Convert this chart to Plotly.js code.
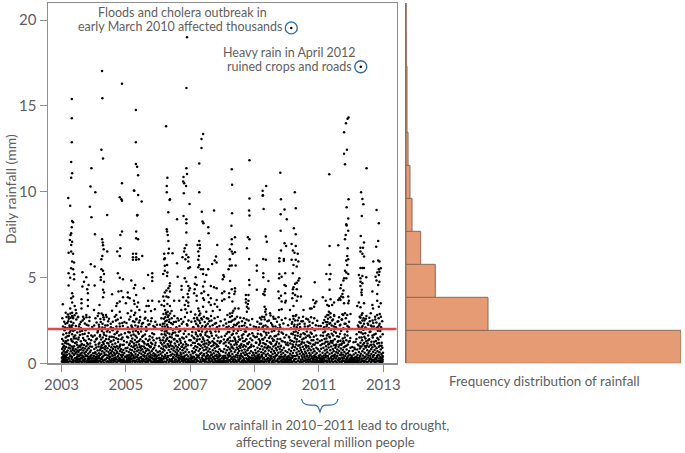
<!DOCTYPE html>
<html><head><meta charset="utf-8">
<script src="https://cdn.plot.ly/plotly-3.0.1.min.js"></script>
<style>html,body{margin:0;padding:0;background:#fff}#c{width:685px;height:453px}</style></head>
<body><div id="c"></div>
<script>
// Rainfall readings above about 2.7 mm: decimal year, mm
const high2003to2005 = [2004.26,17.03,2004.27,15.45,2003.32,15.4,2003.32,14.28,2003.32,12.88,2003.3,11.74,2003.33,11.08,2003.3,10.82,2003.21,9.64,2004.24,12.45,2004.29,11.93,2003.93,11.37,2003.9,10.3,2004.05,9.97,2004.88,16.3,2004.88,10.5,2004.81,9.68,2004.86,9.56,2005.25,10.07,2003.27,9.19,2003.88,9.13,2004.88,9.48,2003.33,8.3,2003.36,8.22,2003.32,7.93,2004.42,8.65,2003.93,8.51,2005.35,8.61,2003.3,7.58,2003.28,7.48,2004.04,7.52,2005.32,7.68,2004.88,7.68,2004.83,7.48,2005.32,7.29,2003.26,7.19,2003.33,7.09,2003.3,6.9,2004.26,7.23,2004.28,7.04,2004.29,6.88,2004.31,6.65,2004.42,6.51,2003.3,6.51,2003.22,6.45,2003.36,6.38,2004.83,6.71,2004.73,6.51,2004.81,6.26,2005.22,6.38,2005.32,6.38,2005.22,6.18,2005.32,6.18,2005.22,6.03,2005.32,6.03,2004.27,6.26,2004.24,6.06,2003.33,5.93,2003.39,5.87,2003.91,5.77,2004.03,5.64,2003.3,5.54,2003.36,5.48,2004.24,5.48,2004.29,5.4,2003.65,5.31,2003.22,5.25,2003.39,5.19,2004.32,5.21,2003.27,4.99,2003.39,4.9,2003.77,5.01,2004.22,5.01,2004.75,5.25,2004.81,4.99,2004.91,4.9,2003.7,4.76,2004.22,4.86,2004.32,4.76,2005.17,4.82,2003.22,4.53,2003.65,4.47,2003.84,4.57,2004.03,4.53,2003.8,4.31,2004.29,4.28,2004.32,4.12,2004.86,4.22,2004.77,4.18,2005.06,4.12,2005.29,4.57,2005.25,4.37,2003.33,4.08,2003.36,3.89,2003.3,3.79,2003.82,4.08,2004.57,4.02,2004.91,3.85,2003.62,3.73,2003.82,3.69,2004.29,3.85,2004.81,3.6,2004.73,3.5,2004.7,3.34,2005.12,3.79,2005.06,3.85,2005.25,3.65,2005.32,3.98,2003.04,3.44,2003.33,3.54,2003.62,3.5,2003.41,3.34,2003.82,3.34,2005.0,3.5,2005.27,3.46,2005.35,3.3,2003.27,3.2,2003.44,3.1,2003.62,3.2,2004.01,3.1,2004.18,3.4,2004.57,3.07,2004.81,3.01,2005.17,3.07,2003.13,2.95,2003.33,2.95,2003.46,2.92,2003.77,2.82,2003.87,2.68,2004.15,2.92,2004.29,2.82,2004.7,2.82,2005.06,2.92,2005.29,2.95,2003.22,2.72,2003.36,2.62,2003.51,2.68,2003.67,2.72];
const high2005to2007 = [2005.31,14.77,2005.31,12.88,2005.31,11.62,2005.35,11.46,2005.38,10.96,2005.26,10.06,2005.38,9.81,2006.9,19.0,2006.88,16.05,2006.25,13.82,2007.4,13.37,2007.35,13.08,2007.35,12.55,2007.28,11.64,2006.88,11.37,2006.9,11.04,2006.79,10.86,2006.78,10.59,2006.81,10.5,2006.87,10.34,2006.8,9.91,2007.28,9.97,2006.29,10.82,2006.27,10.34,2006.27,9.97,2006.37,9.56,2005.49,9.43,2006.36,9.52,2006.98,9.29,2006.32,8.8,2007.36,8.84,2007.74,8.9,2005.36,8.65,2006.59,8.4,2006.79,8.59,2006.88,8.4,2006.88,8.16,2007.38,8.26,2007.41,8.16,2007.56,7.93,2006.27,7.81,2006.28,7.68,2006.3,7.48,2006.88,7.62,2007.57,7.58,2005.38,7.23,2006.32,7.13,2006.88,6.9,2007.28,7.13,2007.23,6.9,2007.3,6.9,2007.84,6.9,2007.3,6.71,2006.34,6.67,2006.83,6.71,2006.81,6.51,2006.19,6.38,2006.32,6.41,2006.45,6.41,2006.88,6.32,2005.51,6.26,2005.4,6.06,2006.19,6.06,2006.21,6.12,2006.76,6.18,2006.85,6.06,2006.94,6.18,2006.94,5.93,2007.25,6.51,2007.27,6.26,2007.25,6.03,2007.8,6.22,2007.76,5.99,2006.59,5.83,2007.68,5.79,2007.82,5.87,2006.28,5.73,2006.21,5.68,2006.94,5.54,2006.99,5.6,2007.28,5.73,2007.25,5.6,2007.33,5.48,2007.4,5.48,2007.56,5.48,2005.82,5.25,2005.69,5.15,2005.82,5.01,2005.82,4.8,2006.21,5.4,2006.29,5.29,2006.16,5.21,2006.28,5.09,2006.61,5.05,2007.17,5.01,2007.4,5.21,2007.5,5.15,2008.05,5.05,2006.83,4.96,2006.88,4.76,2007.45,4.76,2006.37,4.66,2006.36,4.51,2006.32,4.37,2006.73,4.51,2006.94,4.51,2006.99,4.37,2007.14,4.63,2007.2,4.57,2007.4,4.47,2007.64,4.51,2007.74,4.43,2005.56,4.37,2006.73,4.28,2006.26,4.24,2006.21,4.12,2006.37,4.18,2006.96,4.24,2006.92,4.04,2007.14,4.31,2007.12,4.08,2007.43,4.18,2007.35,4.08,2007.56,3.98,2007.82,4.37,2007.99,4.08,2006.16,3.89,2006.26,3.89,2006.32,3.85,2006.19,3.65,2006.78,3.85,2006.94,3.85,2007.2,3.93,2007.4,3.79,2007.64,3.79,2007.82,3.69,2005.69,3.65,2005.82,3.65,2006.03,3.6,2006.5,3.65,2006.66,3.65,2006.88,3.65,2006.94,3.54,2007.43,3.69,2007.58,3.56,2007.99,3.65,2007.2,3.65,2005.38,3.54,2005.64,3.34,2005.71,3.34,2006.11,3.4,2006.19,3.34,2006.29,3.46,2006.37,3.34,2006.83,3.4,2006.94,3.34,2007.25,3.2,2007.4,3.3,2007.64,3.4,2007.76,3.46,2007.84,3.3,2005.42,3.1,2005.6,3.0,2005.78,3.05,2005.9,3.15,2006.22,3.1,2006.3,3.0,2006.42,3.05,2006.72,3.1,2006.85,3.15,2006.9,2.95,2007.02,3.0,2007.28,3.05,2007.5,3.0,2007.7,3.05,2007.92,3.1];
const high2008to2010 = [2008.29,11.31,2008.84,11.84,2008.3,10.4,2008.84,9.6,2009.8,11.11,2009.36,10.34,2009.25,10.06,2009.25,9.77,2009.82,9.56,2010.25,9.97,2010.14,19.55,2009.26,9.8,2008.83,8.9,2009.28,9.0,2009.81,8.69,2009.93,8.96,2010.28,9.04,2008.84,8.61,2008.3,8.75,2010.0,8.4,2008.28,8.01,2009.81,7.72,2010.22,7.87,2010.28,7.52,2008.79,7.35,2008.84,7.23,2009.35,7.39,2009.38,7.09,2008.39,7.35,2008.29,7.23,2008.29,6.94,2009.93,7.0,2010.15,6.96,2009.98,6.84,2010.28,6.84,2008.76,6.71,2008.23,6.65,2008.29,6.51,2008.39,6.47,2008.32,6.38,2009.82,6.57,2010.19,6.57,2010.34,6.38,2010.24,6.45,2008.23,6.06,2008.83,6.08,2009.27,6.08,2009.35,6.03,2009.77,6.12,2009.91,6.08,2009.77,5.93,2009.91,5.97,2010.15,6.03,2010.28,6.03,2010.36,5.93,2008.23,5.68,2008.29,5.7,2008.41,5.7,2009.07,5.7,2010.21,5.73,2010.31,5.64,2008.19,5.48,2009.07,5.4,2009.77,5.21,2009.95,5.25,2009.27,5.25,2010.19,5.25,2008.03,5.15,2008.01,4.9,2008.24,4.8,2008.83,4.86,2009.27,5.01,2009.43,4.8,2009.76,4.96,2009.84,5.05,2010.39,4.96,2010.36,4.82,2010.31,4.7,2008.84,4.57,2009.93,4.57,2009.97,4.51,2010.26,4.63,2010.21,4.43,2010.31,4.31,2008.39,4.37,2008.29,4.31,2009.07,4.28,2009.33,4.31,2009.31,4.18,2009.27,4.04,2009.31,3.98,2009.74,4.18,2009.95,4.08,2010.19,4.31,2010.19,4.08,2010.26,3.98,2008.06,4.18,2008.21,4.08,2008.39,4.18,2008.37,4.04,2008.81,3.98,2008.73,3.98,2009.82,3.93,2010.34,3.89,2008.21,3.85,2008.06,3.73,2008.73,3.73,2008.81,3.65,2009.76,3.79,2009.97,3.65,2010.17,3.79,2010.44,3.89,2010.31,3.65,2008.31,3.6,2008.73,3.54,2008.79,3.46,2009.84,3.6,2009.95,3.54,2008.39,3.2,2008.5,3.2,2008.76,3.3,2008.81,3.2,2009.31,3.3,2009.35,3.15,2009.76,3.1,2009.84,3.15,2010.21,3.34,2010.1,3.1,2010.52,3.1,2010.72,3.2,2008.34,3.07,2008.31,2.95,2008.76,3.01,2009.33,3.01,2009.48,2.92,2009.58,2.72];
const high2011to2012 = [2011.32,11.02,2011.92,14.32,2011.89,14.26,2011.84,13.99,2011.78,13.47,2011.87,12.45,2011.78,12.22,2011.81,11.6,2012.48,11.37,2012.31,9.97,2012.35,9.58,2011.92,9.56,2012.3,17.28,2012.38,9.27,2011.86,9.1,2011.91,8.44,2012.33,8.59,2012.79,8.94,2012.86,8.16,2011.85,8.1,2011.86,8.03,2011.91,7.72,2011.83,7.48,2011.81,7.23,2012.3,7.42,2012.4,7.04,2011.33,6.84,2011.6,6.88,2012.84,7.13,2012.78,6.8,2011.89,6.71,2012.29,6.74,2012.37,6.74,2012.29,6.51,2012.35,6.38,2012.4,6.22,2011.88,6.26,2011.85,5.99,2011.91,6.06,2012.69,5.93,2012.84,5.99,2012.88,5.93,2011.33,5.73,2011.88,5.73,2012.29,5.56,2012.35,5.56,2012.4,5.56,2012.86,5.48,2012.92,5.54,2011.23,5.21,2011.36,5.21,2011.81,5.4,2011.85,5.29,2011.91,5.21,2012.81,5.29,2012.88,5.34,2012.24,5.15,2012.35,5.09,2012.47,5.01,2012.29,4.96,2011.33,4.9,2011.78,4.96,2011.85,4.96,2011.76,4.82,2012.76,5.05,2012.86,5.15,2012.79,4.82,2012.88,4.76,2010.87,4.72,2012.29,4.76,2012.35,4.66,2011.69,4.57,2012.84,4.57,2012.29,4.51,2011.33,4.28,2011.67,4.37,2011.76,4.24,2012.66,4.18,2012.33,4.28,2012.32,4.12,2012.33,3.98,2012.81,4.04,2011.73,4.04,2011.69,3.89,2011.64,3.79,2011.75,3.85,2011.91,3.89,2011.6,3.69,2011.67,3.69,2011.93,3.65,2011.12,3.85,2011.36,3.73,2011.21,3.65,2010.82,3.69,2010.88,3.5,2010.92,3.6,2011.47,3.54,2011.41,3.4,2011.26,3.4,2011.31,3.34,2011.78,3.5,2011.91,3.5,2012.24,3.54,2012.4,3.5,2012.92,3.5,2012.81,3.65,2010.85,3.3,2010.77,3.2,2012.19,3.34,2012.29,3.27,2012.86,3.3,2012.66,3.4,2012.68,3.2,2011.31,3.01,2011.36,2.92,2011.26,2.82,2011.47,2.82,2011.73,2.86,2011.81,2.92,2011.88,2.82,2011.98,2.88,2012.35,2.92,2012.61,2.92,2012.81,2.82,2012.89,2.88];

// Rainfall readings below about 3 mm: fraction of the year, mm
const low2003 = [.01,.1,.01,.32,.02,.55,.02,.83,.03,.14,.03,.62,.03,1.12,.04,.06,.04,.37,.05,.21,.05,.94,.06,.44,.06,1.31,.07,.09,.07,.71,.08,.26,.08,1.02,.09,.05,.09,.52,.1,.16,.1,.85,.11,.31,.11,1.2,.12,.63,.12,2.3,.13,.11,.13,1.5,.14,.42,.14,.95,.15,.2,.15,1.75,.16,.07,.16,1.15,.17,.5,.18,.12,.18,2.05,.19,.75,.2,1.35,.21,.33,.21,2.45,.22,.9,.23,1.6,.24,.55,.25,2.2,.26,1.05,.27,.4,.27,1.85,.28,2.65,.29,.7,.3,1.4,.31,2.1,.31,.25,.32,.98,.33,2.75,.33,1.7,.34,.6,.35,1.25,.36,.15,.36,.88,.37,2.35,.38,1.55,.38,.48,.39,1.0,.4,.72,.41,1.95,.42,.3,.42,1.18,.43,.58,.44,.82,.45,1.45,.45,.1,.46,2.55,.47,.66,.48,.38,.48,1.08,.49,1.8,.5,.52,.51,.92,.52,.24,.52,1.38,.53,.68,.54,2.15,.55,.44,.55,1.02,.56,.78,.57,1.65,.58,.28,.58,.96,.59,.56,.6,1.28,.6,2.4,.61,.8,.62,.34,.63,1.12,.63,.62,.64,1.9,.65,.46,.66,.9,.67,.18,.67,1.48,.68,.74,.69,.36,.7,1.06,.7,2.6,.71,.6,.72,1.72,.73,.22,.73,.86,.74,.5,.75,1.32,.76,.68,.77,.12,.77,1.0,.78,2.25,.79,.42,.8,.78,.81,1.58,.82,.26,.82,1.1,.83,.56,.84,.08,.84,.88,.85,1.42,.86,.35,.87,.14,.87,2.0,.88,.64,.89,.06,.89,1.16,.9,.29,.91,.1,.91,.74,.92,1.35,.93,.05,.93,.47,.94,.18,.95,.08,.95,.96,.96,.33,.97,.06,.97,1.55,.98,.15,.98,.58,.99,.09,.99,.28];
const low2004 = [.01,.06,.01,.42,.02,.16,.02,.83,.03,.08,.03,1.25,.04,.28,.05,.05,.05,.64,.06,.18,.06,1.08,.07,.36,.08,.11,.08,.92,.09,.52,.1,.07,.1,1.45,.11,.22,.12,.74,.13,.4,.13,1.9,.14,.13,.15,.98,.16,.58,.16,2.25,.17,.3,.18,1.2,.19,.76,.2,.48,.2,1.65,.21,.1,.22,2.4,.22,.86,.23,1.38,.24,.56,.25,1.05,.26,.24,.27,2.08,.27,.7,.28,1.5,.29,.9,.3,.42,.31,1.78,.31,1.12,.32,2.55,.33,.62,.34,.2,.34,1.3,.35,.82,.36,2.2,.37,1.0,.38,.5,.39,1.6,.4,.72,.4,2.7,.41,.32,.42,1.18,.43,.88,.44,1.95,.45,.46,.45,2.45,.46,.66,.47,1.4,.48,.26,.48,1.02,.49,.54,.5,1.82,.51,.78,.52,.38,.52,1.26,.53,2.3,.54,.6,.55,.94,.56,.16,.56,1.55,.57,.7,.58,1.1,.59,.44,.6,.84,.6,2.05,.61,.28,.62,1.34,.63,.62,.64,.96,.65,1.7,.65,.12,.66,.5,.67,1.15,.68,.34,.68,.76,.69,2.5,.7,1.46,.71,.58,.72,.22,.72,1.0,.73,.68,.74,1.85,.75,.4,.76,.86,.76,1.24,.77,.14,.78,.56,.79,1.62,.8,.3,.8,.95,.81,2.15,.82,.72,.83,.18,.83,1.1,.84,.48,.85,.82,.86,.1,.86,1.4,.87,.36,.88,.64,.88,.07,.89,2.35,.9,.2,.9,1.06,.91,.5,.92,.09,.92,.78,.93,.27,.94,.05,.94,1.3,.95,.16,.95,.6,.96,.08,.97,.38,.97,1.75,.98,.12,.99,.05,.99,.88];
const low2005 = [.01,.07,.01,.35,.02,.18,.02,.72,.03,.05,.03,1.22,.04,.26,.05,.1,.05,.9,.06,.44,.07,.06,.07,1.5,.08,.3,.09,.14,.09,.66,.1,.08,.1,1.06,.11,.5,.12,.2,.12,1.8,.13,.8,.14,.38,.15,1.3,.15,.1,.16,.6,.17,2.2,.17,1.0,.18,.28,.19,.76,.2,1.45,.2,.52,.21,2.05,.22,.16,.23,.94,.24,1.68,.24,.42,.25,1.15,.26,.68,.27,2.4,.27,.3,.28,1.36,.29,.84,.3,.54,.31,1.9,.31,.12,.32,1.05,.33,2.6,.34,.7,.34,1.5,.35,.36,.36,.92,.37,1.25,.38,2.15,.38,.48,.39,.78,.4,1.72,.41,.2,.41,1.1,.42,.62,.43,2.5,.44,.96,.44,.32,.45,1.4,.46,.74,.47,.1,.47,1.85,.48,.56,.49,1.0,.5,.26,.5,2.3,.51,.82,.52,1.28,.53,.46,.54,.68,.54,1.6,.55,.14,.56,.98,.57,2.0,.58,.38,.58,1.16,.59,.6,.6,.88,.61,.22,.61,2.65,.62,1.42,.63,.72,.64,.44,.65,1.08,.65,1.95,.66,.1,.67,.84,.68,.54,.69,1.32,.69,.28,.7,2.25,.71,.76,.72,1.02,.73,.18,.74,.62,.74,1.58,.75,.36,.76,.94,.77,.5,.78,1.2,.78,2.45,.79,.08,.8,.7,.81,.3,.82,1.12,.82,1.75,.83,.46,.84,.82,.85,.12,.86,.58,.86,1.35,.87,.24,.88,.9,.89,.06,.89,.4,.9,2.1,.9,.16,.91,1.05,.92,.08,.92,.52,.93,.2,.94,.05,.94,.74,.95,.3,.96,.1,.96,1.45,.97,.05,.97,.42,.98,.14,.99,.06,.99,.64];
const low2006 = [.0,.05,.01,.1,.01,.28,.02,.06,.02,.48,.03,.14,.03,1.0,.04,.05,.04,.32,.05,.09,.05,.7,.06,.2,.07,.06,.07,1.35,.08,.12,.08,.55,.09,.3,.1,.08,.1,.88,.11,1.7,.12,.18,.12,.44,.13,1.1,.14,.64,.15,2.3,.15,.26,.16,.82,.17,1.5,.18,2.6,.18,.38,.19,1.2,.2,.74,.21,2.15,.21,1.85,.22,.5,.23,2.45,.23,1.02,.24,1.62,.25,.3,.26,2.85,.26,.92,.27,1.4,.28,2.25,.28,.6,.29,1.78,.3,1.12,.31,2.7,.31,.42,.32,2.05,.33,.78,.34,1.3,.35,2.55,.35,.96,.36,.24,.37,1.55,.38,.66,.39,1.05,.4,2.35,.41,.48,.41,1.25,.42,.84,.43,1.68,.44,.14,.45,1.0,.45,.56,.46,1.95,.47,.36,.48,.74,.49,1.38,.49,2.4,.5,.9,.51,.5,.52,1.15,.53,.22,.53,1.8,.54,.68,.55,1.02,.56,.4,.57,2.1,.58,.8,.58,1.3,.59,.58,.6,.12,.61,.94,.62,1.6,.62,.34,.63,.72,.64,2.5,.65,1.08,.65,.46,.66,.2,.67,1.42,.68,.84,.69,1.9,.7,.62,.7,.28,.71,1.18,.72,.52,.73,.96,.74,2.3,.75,.38,.75,1.5,.76,.76,.77,.16,.78,1.1,.79,.6,.8,1.72,.8,.3,.81,.88,.82,2.0,.83,.44,.84,1.25,.85,.1,.85,.68,.86,.98,.87,.26,.88,1.55,.89,.5,.9,.08,.9,.8,.91,2.2,.92,.2,.93,1.05,.93,.05,.94,.4,.95,.14,.96,.64,.97,.07,.97,1.35,.98,.28,.99,.11];
const low2007 = [.01,.06,.01,.5,.02,.22,.03,.09,.03,1.05,.04,.4,.05,.14,.05,1.6,.06,.7,.07,.05,.07,.3,.08,1.2,.09,.58,.1,.16,.1,2.1,.11,.88,.12,.36,.13,1.45,.13,.08,.14,.66,.15,2.45,.16,1.0,.17,.26,.17,1.8,.18,.78,.19,.5,.2,1.3,.21,2.65,.21,.18,.22,.94,.23,1.58,.24,.42,.24,2.2,.25,1.12,.26,.72,.27,1.9,.28,.32,.28,2.8,.29,1.4,.3,.84,.31,.56,.31,2.35,.32,1.7,.33,.1,.33,1.02,.34,2.05,.35,.62,.36,1.25,.37,2.55,.38,.9,.38,.44,.39,1.5,.4,.24,.41,1.1,.41,2.0,.42,.76,.43,.54,.44,1.32,.45,2.4,.45,.14,.46,.98,.47,1.65,.48,.38,.49,.8,.49,2.2,.5,1.15,.51,.6,.52,.28,.52,1.85,.53,.92,.54,1.35,.55,.48,.56,2.6,.56,.7,.57,1.08,.58,.18,.59,1.52,.6,.84,.6,.4,.61,2.15,.62,1.2,.63,.64,.64,.3,.65,1.75,.66,1.0,.66,2.5,.67,.52,.68,.12,.69,1.28,.7,.76,.71,.36,.71,2.0,.72,1.05,.73,.58,.74,1.45,.75,.2,.76,.88,.76,2.3,.77,.44,.78,1.15,.79,.7,.8,.1,.81,1.62,.82,.5,.82,.96,.83,2.1,.84,.28,.85,1.3,.86,.66,.87,.08,.87,1.0,.88,.34,.89,1.85,.9,.14,.9,.56,.91,.82,.92,.06,.93,1.25,.93,.24,.94,.46,.95,.1,.96,.72,.96,.05,.97,1.55,.98,.3,.98,.12,.99,.05];
const low2008 = [.01,.08,.01,.36,.02,.05,.02,.68,.03,.18,.04,.07,.04,1.15,.05,.28,.06,.1,.06,.84,.07,.05,.08,.44,.08,1.6,.09,.14,.1,.62,.11,.06,.11,1.02,.12,.32,.13,2.1,.13,.12,.14,.76,.15,1.35,.16,.5,.16,.2,.17,1.82,.18,.94,.19,.38,.2,2.4,.2,1.2,.21,.6,.22,.16,.23,1.5,.23,.82,.24,2.7,.25,.42,.26,1.1,.27,2.05,.27,.7,.28,.26,.29,1.65,.3,.98,.31,2.5,.31,.54,.32,1.3,.33,.14,.34,.86,.35,1.9,.35,.4,.36,2.25,.37,1.08,.38,.66,.39,1.42,.39,.22,.4,2.6,.41,.78,.42,1.18,.43,.48,.44,1.75,.44,.1,.45,.92,.46,2.3,.47,.34,.48,1.25,.48,.6,.49,.84,.5,1.55,.51,.18,.52,.72,.52,2.15,.53,1.0,.54,.44,.55,1.38,.56,.28,.56,.9,.57,1.95,.58,.56,.59,1.12,.6,.12,.6,.74,.61,2.45,.62,1.48,.63,.36,.64,.96,.65,.62,.65,1.7,.66,.2,.67,1.05,.68,2.2,.69,.5,.69,.8,.7,1.3,.71,.08,.72,.66,.73,1.85,.73,.98,.74,.3,.75,2.55,.76,.54,.77,1.15,.78,.76,.78,.14,.79,1.6,.8,.42,.81,.88,.82,2.0,.82,.24,.83,1.22,.84,.58,.85,.06,.86,.94,.86,.34,.87,1.45,.88,.12,.89,.7,.9,.05,.9,1.08,.91,.26,.92,.46,.93,.08,.93,1.75,.94,.18,.95,.05,.95,.62,.96,.32,.97,.1,.97,1.0,.98,.05,.99,.22,.99,.48];
const low2009 = [.0,.06,.01,.16,.01,.4,.02,.07,.02,.78,.03,.24,.04,.05,.04,1.2,.05,.34,.05,.1,.06,.6,.07,.18,.07,1.55,.08,.06,.09,.46,.09,.9,.1,.12,.11,.3,.11,1.95,.12,.7,.13,.08,.14,1.08,.14,.52,.15,.2,.16,2.3,.17,1.3,.17,.84,.18,.38,.19,1.7,.2,.14,.21,.64,.21,2.55,.22,1.0,.23,.48,.24,1.4,.25,.26,.25,2.1,.26,.8,.27,1.18,.28,.58,.29,1.85,.29,.32,.3,2.7,.31,.94,.32,1.5,.33,.12,.33,.7,.34,2.2,.35,1.1,.36,.42,.37,1.65,.38,.86,.38,.22,.39,1.3,.4,2.45,.41,.56,.42,1.0,.43,.3,.43,1.78,.44,.74,.45,2.0,.46,.46,.47,1.22,.47,.16,.48,.92,.49,1.58,.5,.38,.51,.66,.51,2.35,.52,1.12,.53,.28,.54,.82,.55,1.45,.55,.1,.56,.54,.57,2.15,.58,.98,.59,.36,.6,1.35,.6,.72,.61,1.9,.62,.2,.63,.6,.64,1.05,.65,2.6,.65,.44,.66,.88,.67,1.6,.68,.14,.69,.76,.69,1.25,.7,.5,.71,2.05,.72,.26,.73,.96,.74,1.7,.74,.62,.75,.08,.76,1.15,.77,.4,.78,.84,.78,2.25,.79,.3,.8,1.42,.81,.68,.82,.12,.82,1.02,.83,.52,.84,1.8,.85,.22,.86,.78,.86,.06,.87,1.28,.88,.36,.89,.6,.9,.1,.9,2.0,.91,.9,.92,.05,.92,.28,.93,1.5,.94,.16,.95,.48,.95,.06,.96,.72,.97,.2,.98,.05,.98,1.1,.99,.34];
const low2010 = [.01,.07,.01,.3,.02,.12,.02,.64,.03,.05,.04,.22,.04,1.05,.05,.09,.06,.42,.06,.05,.07,.8,.08,.16,.08,1.5,.09,.34,.1,.07,.1,.56,.11,1.15,.12,.24,.13,.72,.13,2.05,.14,.12,.15,.46,.16,1.3,.16,.9,.17,2.4,.18,.32,.19,1.7,.19,.6,.2,1.0,.21,2.6,.22,.18,.22,1.25,.23,.76,.24,2.25,.25,1.48,.25,.42,.26,.94,.27,2.75,.28,1.85,.28,.26,.29,1.1,.3,.62,.31,2.1,.31,1.4,.32,.84,.33,.5,.34,2.5,.34,1.6,.35,.16,.36,1.02,.37,.7,.38,1.95,.38,.36,.39,1.28,.4,2.3,.41,.56,.42,.9,.42,1.55,.43,.1,.44,.78,.45,1.12,.46,2.0,.46,.44,.47,.66,.48,1.38,.49,.24,.5,2.45,.5,.96,.51,.54,.52,1.75,.53,.14,.54,.82,.54,1.2,.55,.38,.56,2.15,.57,.68,.58,1.05,.58,.28,.59,1.5,.6,.58,.61,.92,.62,.18,.62,1.85,.63,.46,.64,1.25,.65,.74,.66,2.55,.66,.1,.67,1.0,.68,.32,.69,1.62,.7,.6,.7,.86,.71,2.2,.72,.2,.73,1.15,.74,.5,.74,1.8,.75,.76,.76,.08,.77,1.35,.78,.4,.78,.98,.79,2.05,.8,.62,.81,.14,.82,1.1,.82,.3,.83,.84,.84,1.55,.85,.44,.86,.06,.86,.7,.87,1.92,.88,.22,.89,.52,.9,1.2,.9,.1,.91,.36,.92,.9,.93,.05,.93,.6,.94,.16,.95,1.4,.95,.07,.96,.3,.97,.05,.97,.82,.98,.12,.99,.44];
const low2011 = [.0,.06,.01,.14,.01,.36,.02,.05,.02,.7,.03,.2,.04,.08,.04,.5,.05,1.05,.05,.05,.06,.28,.07,.12,.07,.85,.08,.05,.09,.4,.09,1.35,.1,.18,.11,.06,.11,.62,.12,.3,.13,1.6,.13,.1,.14,.9,.15,.46,.16,2.1,.16,.22,.17,1.15,.18,.74,.19,1.85,.19,.14,.2,.56,.21,2.4,.22,1.0,.22,.34,.23,1.45,.24,.8,.25,2.25,.25,.08,.26,.64,.27,1.25,.28,2.6,.28,.42,.29,1.7,.3,.92,.31,.24,.31,2.05,.32,1.12,.33,.54,.34,1.5,.35,2.35,.35,.76,.36,.3,.37,1.3,.38,.98,.38,1.95,.39,.14,.4,.6,.41,2.5,.42,1.18,.42,.44,.43,.84,.44,1.62,.45,.26,.46,2.15,.46,.7,.47,1.05,.48,.36,.49,1.4,.5,.52,.5,2.3,.51,.9,.52,.12,.53,1.78,.54,.66,.54,1.1,.55,.4,.56,2.0,.57,.8,.58,.2,.58,1.25,.59,.58,.6,2.45,.61,.96,.62,.3,.62,1.55,.63,.72,.64,1.08,.65,2.2,.66,.48,.66,.1,.67,1.32,.68,.86,.69,1.9,.7,.34,.7,.62,.71,1.15,.72,2.55,.73,.18,.74,.78,.74,1.45,.75,.5,.76,2.05,.77,.94,.78,.28,.78,1.2,.79,.66,.8,1.68,.81,.12,.82,.42,.82,1.0,.83,2.3,.84,.56,.85,1.35,.86,.22,.86,.8,.87,.06,.88,1.85,.89,.36,.9,.6,.9,1.1,.91,.14,.92,.46,.93,2.1,.93,.05,.94,.72,.95,.24,.96,1.3,.96,.09,.97,.5,.98,.16,.98,.9,.99,.05,.99,.32];
const low2012 = [.0,.07,.01,.2,.01,.05,.02,.42,.03,.1,.03,.05,.04,.3,.05,.15,.05,.72,.06,.05,.07,.24,.07,.06,.08,.52,.09,.12,.09,.05,.1,.9,.11,.34,.12,.07,.12,.17,.13,.05,.14,.6,.14,1.25,.15,.1,.16,.38,.17,.06,.17,1.7,.18,.22,.19,.8,.2,.08,.2,.48,.21,2.2,.22,.14,.23,1.05,.23,.05,.24,.66,.25,.3,.26,1.5,.26,2.4,.27,.86,.28,.4,.29,1.2,.29,2.65,.3,.56,.31,1.8,.32,.98,.32,.2,.33,2.1,.34,1.35,.35,.7,.35,2.5,.36,.46,.37,1.1,.38,1.95,.39,.28,.39,.84,.4,2.3,.41,1.55,.42,.62,.42,.14,.43,1.0,.44,1.75,.45,.38,.46,2.6,.46,.92,.47,1.28,.48,.52,.49,.08,.49,2.0,.5,.76,.51,1.15,.52,.32,.53,1.62,.53,2.25,.54,.6,.55,.96,.56,.18,.56,1.4,.57,.7,.58,2.45,.59,.44,.6,1.05,.6,1.85,.61,.26,.62,.82,.63,1.25,.63,.54,.64,2.15,.65,.12,.66,.94,.67,1.5,.67,.36,.68,.68,.69,2.35,.7,1.1,.71,.48,.71,.2,.72,1.68,.73,.78,.74,1.0,.75,2.55,.75,.3,.76,.6,.77,1.3,.78,.1,.79,.88,.79,2.05,.8,.42,.81,1.15,.82,.7,.83,1.9,.83,.16,.84,.5,.85,1.38,.86,.96,.87,2.2,.87,.28,.88,.64,.89,1.02,.9,.06,.91,1.55,.91,.36,.92,.8,.93,2.1,.94,.14,.94,.54,.95,1.2,.96,.08,.97,.44,.97,.9,.98,.2,.98,1.7,.99,.62];

// Further readings in the dense lower band, by year
const more2003 = [.035,.22,.072,.41,.115,.08,.148,.33,.173,.18,.205,.06,.232,.27,.258,.12,.283,.45,.305,.09,.327,.36,.352,.05,.371,.2,.394,.52,.416,.1,.437,.16,.458,.3,.472,.06,.489,.24,.506,.12,.523,.4,.547,.07,.564,.19,.585,.48,.603,.11,.625,.28,.642,.06,.668,.34,.695,.15,.714,.08,.738,.26,.762,.43,.785,.05,.806,.17,.829,.38,.853,.23,.877,.3,.902,.44,.018,1.42,.055,1.68,.095,1.92,.138,1.28,.165,.66,.187,1.58,.215,1.12,.243,1.78,.268,.86,.295,1.95,.318,1.3,.345,.78,.365,1.88,.388,1.44,.425,1.62,.465,1.22,.495,.74,.535,1.5,.575,1.85,.615,1.06,.655,1.7,.705,1.36,.745,1.92,.795,1.18,.845,1.76,.885,.98,.925,1.62,.025,2.62,.045,2.15,.085,2.42,.112,2.08,.155,2.7,.178,2.35,.198,2.85,.225,2.6,.252,2.12,.276,2.9,.298,2.42,.335,2.22,.355,2.68,.405,2.8,.445,2.18,.515,2.72,.565,2.28,.605,2.05,.655,2.5,.725,2.32,.775,2.68,.835,2.2,.865,2.46,.955,2.12];
const more2004 = [.028,.58,.066,.14,.104,.3,.137,.06,.162,.42,.186,.13,.214,.27,.241,.07,.266,.35,.292,.15,.316,.05,.343,.48,.369,.22,.392,.09,.414,.31,.441,.12,.463,.05,.484,.38,.507,.17,.532,.08,.558,.25,.579,.49,.604,.06,.627,.19,.651,.33,.676,.1,.702,.24,.728,.05,.753,.41,.774,.16,.802,.27,.826,.09,.851,.2,.879,.43,.906,.12,.03,1.62,.075,1.38,.118,1.8,.152,1.12,.192,1.56,.228,.94,.255,1.88,.285,1.22,.325,1.66,.358,.96,.385,1.42,.415,1.85,.455,1.15,.495,1.55,.545,1.28,.585,1.92,.625,1.52,.675,.92,.715,1.76,.765,1.4,.815,1.02,.855,1.68,.895,1.5,.935,1.08,.015,2.2,.055,2.62,.09,2.38,.125,2.75,.172,2.12,.208,2.58,.245,2.9,.275,2.3,.305,2.68,.348,2.05,.382,2.82,.428,2.22,.475,2.6,.535,2.1,.595,2.42,.655,2.72,.705,2.15,.745,2.55,.805,2.32,.845,2.66,.905,2.18,.955,2.4];
const more2005 = [.024,.46,.06,.2,.098,.34,.128,.06,.158,.24,.183,.45,.208,.09,.236,.31,.262,.15,.287,.06,.314,.4,.339,.21,.366,.08,.393,.28,.418,.12,.446,.05,.468,.37,.493,.17,.517,.07,.542,.23,.567,.46,.592,.1,.618,.05,.643,.29,.672,.16,.698,.07,.723,.41,.748,.22,.772,.13,.796,.34,.824,.05,.849,.26,.874,.11,.898,.47,.925,.28,.035,1.55,.078,1.82,.122,1.15,.165,1.62,.195,1.25,.225,1.85,.265,1.02,.298,1.6,.335,1.22,.375,1.82,.415,1.3,.455,.9,.505,1.55,.555,1.24,.595,1.68,.635,1.88,.685,1.12,.735,1.38,.775,.98,.825,1.5,.875,1.7,.925,1.2,.02,2.35,.06,2.08,.105,2.55,.142,2.72,.185,2.12,.222,2.45,.258,2.82,.295,2.2,.322,2.55,.362,2.05,.402,2.38,.445,2.7,.485,2.15,.535,2.35,.585,2.6,.632,2.12,.682,2.5,.732,2.28,.802,2.62,.855,2.18,.915,2.42,.965,2.25];
const more2006 = [.128,.14,.156,.06,.182,.28,.207,.11,.233,.42,.256,.07,.282,.19,.306,.35,.334,.08,.358,.16,.382,.45,.407,.1,.433,.25,.456,.05,.482,.32,.508,.14,.536,.06,.558,.22,.584,.48,.606,.09,.632,.17,.658,.3,.683,.06,.708,.4,.733,.13,.758,.24,.784,.07,.809,.36,.834,.19,.862,.05,.887,.27,.912,.12,.938,.2,.042,1.48,.085,1.2,.115,1.92,.148,1.35,.175,.98,.205,1.7,.235,1.3,.262,1.9,.292,1.48,.325,1.02,.352,1.72,.385,1.2,.425,1.5,.465,1.78,.515,1.42,.565,1.62,.605,1.25,.645,1.84,.695,1.32,.745,.96,.795,1.45,.845,1.88,.875,1.12,.955,1.7,.065,2.25,.105,2.62,.135,2.15,.168,2.88,.195,2.32,.225,2.68,.248,2.95,.272,2.5,.298,2.12,.325,2.78,.345,2.4,.375,2.9,.395,2.05,.425,2.62,.455,2.28,.505,2.75,.555,2.42,.605,2.62,.665,2.18,.715,2.58,.785,2.42,.835,2.7,.895,2.28,.945,2.5];
const more2007 = [.022,.3,.058,.12,.094,.38,.124,.07,.152,.22,.186,.06,.212,.34,.238,.14,.264,.45,.292,.08,.318,.2,.343,.06,.368,.31,.394,.13,.42,.47,.447,.07,.472,.24,.497,.1,.522,.42,.548,.05,.573,.29,.598,.15,.624,.07,.649,.47,.674,.2,.699,.09,.724,.33,.749,.05,.773,.25,.798,.12,.823,.39,.848,.06,.873,.18,.898,.42,.937,.09,.015,1.35,.062,1.82,.105,1.5,.142,1.18,.182,1.7,.215,1.38,.255,1.92,.292,1.08,.325,1.62,.365,1.85,.405,1.42,.445,1.15,.475,1.78,.535,1.58,.585,1.22,.625,1.85,.675,1.6,.735,1.2,.785,1.85,.825,1.08,.875,1.5,.915,1.18,.955,1.28,.035,2.42,.085,2.08,.118,2.62,.155,2.85,.185,2.3,.225,2.55,.252,2.15,.285,2.48,.312,2.9,.345,2.62,.375,2.18,.425,2.72,.465,2.12,.515,2.62,.545,2.3,.595,2.45,.645,2.75,.695,2.22,.755,2.62,.805,2.35,.855,2.7,.905,2.18,.945,2.45];
const more2008 = [.025,.42,.056,.16,.086,.32,.125,.06,.155,.27,.185,.08,.212,.47,.238,.19,.264,.07,.291,.34,.316,.11,.344,.23,.368,.06,.395,.38,.419,.15,.445,.07,.47,.46,.495,.2,.52,.1,.544,.3,.57,.06,.595,.42,.62,.16,.645,.07,.672,.28,.697,.13,.722,.48,.747,.06,.772,.22,.797,.1,.822,.36,.848,.16,.873,.07,.898,.3,.915,.12,.045,1.38,.095,1.22,.128,1.72,.172,1.42,.215,1.82,.252,1.3,.285,.92,.325,1.72,.365,1.5,.405,1.32,.445,1.1,.485,1.9,.525,1.38,.565,1.05,.605,1.62,.645,1.28,.695,1.85,.745,1.4,.795,1.12,.835,1.7,.885,.96,.925,1.35,.965,1.6,.03,2.2,.075,2.55,.115,2.32,.155,2.82,.195,2.15,.232,2.9,.265,2.42,.298,2.75,.335,2.12,.375,2.55,.418,2.22,.455,2.72,.505,2.38,.555,2.65,.605,2.18,.665,2.62,.705,2.35,.755,2.08,.815,2.5,.865,2.25,.925,2.58,.975,2.15];
const more2009 = [.032,.62,.078,.28,.106,.42,.135,.05,.166,.32,.195,.08,.225,.4,.255,.12,.283,.06,.312,.22,.345,.5,.372,.09,.405,.3,.428,.14,.455,.06,.486,.24,.515,.42,.542,.07,.568,.16,.596,.05,.624,.33,.652,.1,.681,.46,.708,.18,.736,.07,.764,.28,.792,.11,.819,.38,.846,.15,.874,.05,.903,.24,.932,.42,.968,.1,.015,1.52,.055,1.2,.098,1.72,.132,1.4,.175,1.18,.215,1.62,.265,1.38,.315,1.12,.352,1.78,.402,.92,.445,1.48,.495,1.2,.535,1.85,.575,1.3,.625,1.58,.665,1.12,.715,1.42,.755,1.85,.805,.98,.845,1.3,.885,1.72,.945,1.22,.985,1.65,.045,2.12,.085,2.42,.135,2.08,.165,2.65,.205,2.3,.235,2.72,.275,2.18,.315,2.55,.358,2.85,.402,2.12,.445,2.5,.495,2.78,.545,2.25,.595,2.6,.645,2.15,.695,2.42,.745,2.68,.795,2.1,.845,2.52,.895,2.32,.955,2.62];
const more2010 = [.028,.38,.075,.2,.104,.05,.135,.3,.164,.07,.195,.42,.225,.1,.252,.24,.284,.06,.315,.46,.342,.12,.374,.3,.402,.07,.436,.2,.464,.05,.488,.34,.516,.1,.545,.5,.572,.16,.598,.06,.626,.4,.654,.22,.683,.08,.712,.44,.738,.14,.765,.3,.792,.05,.821,.23,.848,.1,.876,.37,.905,.16,.936,.26,.968,.1,.025,1.2,.065,1.55,.112,1.35,.142,1.72,.182,1.1,.215,1.82,.262,1.62,.305,1.25,.345,1.78,.392,1.05,.435,1.68,.475,1.22,.525,1.45,.565,1.7,.605,1.02,.645,1.6,.685,1.2,.725,1.52,.775,1.72,.825,1.35,.865,1.08,.915,1.62,.965,1.2,.04,2.22,.095,2.55,.155,2.3,.195,2.75,.225,2.15,.258,2.5,.295,2.82,.335,2.25,.375,2.65,.415,2.12,.455,2.45,.505,2.72,.555,2.3,.605,2.6,.655,2.15,.705,2.42,.755,2.68,.805,2.35,.855,2.62,.905,2.22,.945,2.48,.985,2.18];
const more2011 = [.032,.28,.065,.09,.094,.22,.125,.05,.152,.34,.184,.1,.214,.44,.24,.16,.268,.07,.297,.3,.323,.14,.353,.05,.385,.38,.414,.22,.442,.08,.472,.46,.494,.12,.523,.28,.552,.06,.575,.42,.605,.16,.634,.08,.657,.25,.682,.5,.709,.07,.736,.32,.764,.13,.792,.4,.815,.06,.845,.2,.872,.3,.897,.08,.932,.16,.962,.28,.985,.12,.025,1.3,.055,1.62,.105,1.12,.135,1.8,.172,1.42,.212,1.25,.245,1.62,.285,1.1,.325,1.55,.365,1.22,.395,1.72,.435,1.32,.475,1.85,.525,1.02,.565,1.58,.605,1.3,.655,1.72,.695,1.08,.755,1.28,.805,1.5,.855,1.02,.885,1.62,.925,1.25,.975,1.48,.055,2.18,.125,2.35,.165,2.52,.205,2.72,.235,2.15,.265,2.4,.295,2.82,.325,2.3,.355,2.68,.395,2.2,.435,2.55,.475,2.75,.525,2.1,.575,2.42,.625,2.68,.665,2.25,.705,2.55,.755,2.82,.795,2.3,.835,2.62,.885,2.18,.935,2.42];
const more2012 = [.018,.3,.034,.09,.064,.14,.098,.28,.115,.05,.145,.2,.175,.12,.195,.33,.225,.06,.248,.18,.275,.42,.304,.08,.332,.28,.366,.14,.393,.05,.416,.36,.447,.1,.474,.24,.508,.06,.536,.46,.563,.12,.594,.3,.622,.07,.654,.2,.683,.42,.714,.1,.744,.06,.774,.22,.806,.34,.838,.1,.868,.46,.895,.14,.925,.26,.955,.3,.975,.1,.985,.38,.035,.95,.075,1.22,.115,.82,.165,1.42,.205,1.1,.245,1.82,.285,.98,.325,1.5,.365,1.72,.405,1.18,.445,1.45,.485,1.02,.535,1.35,.575,1.82,.625,1.08,.665,1.62,.715,1.25,.765,1.72,.815,1.48,.865,1.18,.905,1.88,.945,1.02,.235,2.12,.265,2.72,.295,2.35,.325,2.82,.355,2.18,.385,2.62,.415,2.5,.445,2.08,.475,2.75,.515,2.32,.565,2.65,.615,2.2,.665,2.5,.705,2.15,.745,2.72,.785,2.38,.825,2.12,.855,2.62,.885,2.3,.925,2.72,.965,2.45];

// Histogram of daily rainfall
const binLowerEdges = [0,2,4,6,8,10,12,14,16,18,20];
const binWidthMm = 2;
const binFrequency = [2415,720,257,129,53,35,18,9,9,2,1];

// Labels
const yearTicks = [2003,2005,2007,2009,2011,2013];
const rainTicks = [0,5,10,15,20];
const droughtThresholdMm = 2;
const eventPoints = {x:[2010.14,2012.3], y:[19.55,17.28]};

const W=685,H=453;
const px=v=>v/W, py=v=>1-v/H;
const rainX=[], rainY=[];
for (const a of [high2003to2005,high2005to2007,high2008to2010,high2011to2012])
  for (let i=0;i<a.length;i+=2){rainX.push(a[i]);rainY.push(a[i+1]);}
const lows={2003:[low2003,more2003],2004:[low2004,more2004],2005:[low2005,more2005],2006:[low2006,more2006],2007:[low2007,more2007],2008:[low2008,more2008],2009:[low2009,more2009],2010:[low2010,more2010],2011:[low2011,more2011],2012:[low2012,more2012]};
for (const yr in lows) for (const a of lows[yr])
  for (let i=0;i<a.length;i+=2){rainX.push(+yr+a[i]);rainY.push(a[i+1]);}

const FONT='Lato, "Open Sans", sans-serif', GREY='#5f5f5f', AX='#8e8e8e', BLUE='#2f6da4';
const ann=(text,x,y,size,extra)=>Object.assign({text,x:px(x),y:py(y),xref:'paper',yref:'paper',xanchor:'center',yanchor:'middle',showarrow:false,align:'center',font:{family:FONT,size:size,color:GREY}},extra||{});

const traces=[
 {type:'scatter',mode:'markers',x:rainX,y:rainY,xaxis:'x',yaxis:'y',marker:{color:'#000',size:2.5,symbol:'circle'},hoverinfo:'skip'},
 {type:'scatter',mode:'markers',x:eventPoints.x,y:eventPoints.y,xaxis:'x',yaxis:'y',marker:{symbol:'circle-open',size:12,color:BLUE,line:{color:BLUE,width:1.4}},hoverinfo:'skip'},
 {type:'bar',orientation:'h',x:binFrequency,y:binLowerEdges.map(e=>e+binWidthMm/2),width:binWidthMm,xaxis:'x2',yaxis:'y2',marker:{color:'#e79b74',line:{color:'#8c6a58',width:1}},hoverinfo:'skip'}
];
const bracePath=(()=>{const P=(x,y)=>px(x)+','+py(y);
 return 'M'+P(301.5,399)+' C'+P(302.5,404)+' '+P(306,405.2)+' '+P(310,405.2)+' L'+P(315,405.2)+' C'+P(318,405.2)+' '+P(319,408)+' '+P(320,411.8)+' C'+P(321,408)+' '+P(322,405.2)+' '+P(325,405.2)+' L'+P(330,405.2)+' C'+P(334,405.2)+' '+P(337,404)+' '+P(338,399);})();

const layout={
 width:W,height:H,margin:{l:0,r:0,t:0,b:0},paper_bgcolor:'#fff',plot_bgcolor:'#fff',showlegend:false,bargap:0,
 font:{family:FONT,color:GREY},
 xaxis:{domain:[px(48),px(396.5)],range:[2002.58,2013.41],tickvals:yearTicks,ticktext:yearTicks.map(String),ticks:'outside',ticklen:7,tickwidth:1,tickcolor:AX,showgrid:false,zeroline:false,showline:true,linecolor:AX,linewidth:1.5,mirror:true,tickfont:{family:FONT,size:15,color:GREY}},
 yaxis:{domain:[py(363.3),py(3)],range:[0,21],tickvals:rainTicks,ticktext:rainTicks.map(String),ticks:'outside',ticklen:7,tickwidth:1,tickcolor:AX,showgrid:false,zeroline:false,showline:true,linecolor:AX,linewidth:1.5,mirror:true,tickfont:{family:FONT,size:15,color:GREY}},
 xaxis2:{domain:[px(406),px(681)],range:[0,binFrequency[0]],visible:false,anchor:'y2'},
 yaxis2:{domain:[py(363.3),py(3)],range:[0,21.84],anchor:'x2',showticklabels:false,ticks:'',showgrid:false,zeroline:false,showline:true,linecolor:'#777',linewidth:1},
 shapes:[
  {type:'line',xref:'x domain',yref:'y',x0:0,x1:1,y0:droughtThresholdMm,y1:droughtThresholdMm,line:{color:'#e2474b',width:2.4}},
  {type:'path',xref:'paper',yref:'paper',path:bracePath,line:{color:BLUE,width:1.2},fillcolor:'rgba(0,0,0,0)'}
 ],
 annotations:[
  ann('Floods and cholera outbreak in',182,12,12.5),
  ann('early March 2010 affected thousands',180.5,27,12.5),
  ann('Heavy rain in April 2012',289.5,52,12.5),
  ann('ruined crops and roads',289.5,67,12.5),
  ann('Low rainfall in 2010–2011 lead to drought,',325.5,425,13.2),
  ann('affecting several million people',325.5,442,13.2),
  ann('Frequency distribution of rainfall',544,381,13.4),
  ann('Daily rainfall (mm)',10,189,14,{textangle:-90})
 ]
};
Plotly.newPlot('c',traces,layout,{displayModeBar:false,staticPlot:true});
</script></body></html>
